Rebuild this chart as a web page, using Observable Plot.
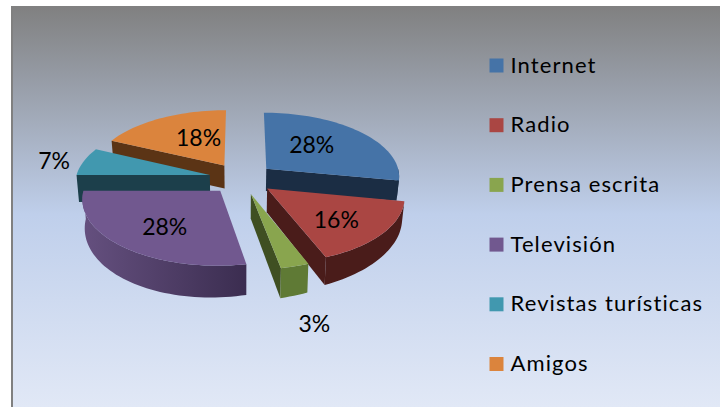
<!DOCTYPE html>
<html>
<head>
<meta charset="utf-8">
<script src="https://cdn.jsdelivr.net/npm/d3@7"></script>
<script src="https://cdn.jsdelivr.net/npm/@observablehq/plot@0.6"></script>
<style>
  html, body { margin: 0; padding: 0; background: #fff; }
  svg { display: block; }
</style>
</head>
<body>
<div id="chart"></div>
<script>
// ---- data ----
const categories = ["Internet", "Radio", "Prensa escrita", "Televisión", "Revistas turísticas", "Amigos"];
const percentages = [28, 16, 3, 28, 7, 18];
const topColors = ["#4573A7", "#AA4643", "#89A54E", "#71588F", "#4198AF", "#DB843D"];
const wallColors = ["#1B2D44", "#4A1C1A", "#3F4F22", "#3E3054", "#1C3F4B", "#5B3415"];
const rimColors = ["#1B2D44", "#4A1C1A", "#5F7A35", "#65507F", "#1C3F4B", "#5B3415"];
const rimEndColors = ["#1B2D44", "#4A1C1A", "#5F7A35", "#3B2D50", "#1C3F4B", "#5B3415"];

// ---- pie geometry (units: pie radii) ----
const W = 720, H = 407;
const CX = 241, CY = 178, RX = 134, RY = 64;
const EXPLODE = 0.244, PERSPECTIVE = 0.108;
const paintOrder = [5, 0, 4, 1, 2, 3];
// label position: multiples of the slice's mid direction, from its apex
const labelU = [0.44, 0.67, 1.7, 0.65, 1.19, 0.36];
const labelV = [0.56, 0.78, 2.12, 0.75, 1.0, 0.5];

const rad = d => d * Math.PI / 180;
const cum = d3.cumsum(percentages);
const slices = categories.map((name, i) => {
  const a0 = (i ? cum[i - 1] : 0) * 3.6, a1 = cum[i] * 3.6, am = (a0 + a1) / 2;
  return {i, name, a0, a1, ux: Math.sin(rad(am)), uy: Math.cos(rad(am)),
          ax: EXPLODE * Math.sin(rad(am)), ay: EXPLODE * Math.cos(rad(am))};
});
// perspective of a ground point; low = bottom face of the slab
function project(wx, wy, low) {
  const s = 1 / (1 + PERSPECTIVE * wy);
  const px = wx * s, py = wy * s;
  if (!low) return {x: px, y: py};
  const depth = (23.5 - 0.022 * px * RX) * s * s;
  return {x: px * 0.985, y: py - depth / RY};
}
const rim = (sl, a, low) => project(sl.ax + Math.sin(rad(a)), sl.ay + Math.cos(rad(a)), low);
const apex = (sl, low) => project(sl.ax, sl.ay, low);
const arcAngles = (a0, a1) => {
  const n = Math.max(2, Math.ceil((a1 - a0) / 2));
  return d3.range(n + 1).map(k => a0 + (a1 - a0) * k / n);
};

const polys = [];
let polyId = 0;
const addPoly = (pts, color) => { polyId++; pts.forEach(p => polys.push({z: polyId, x: p.x, y: p.y, color})); };
const gradients = [];

for (const idx of paintOrder) {
  const sl = slices[idx];
  // radial walls that face the viewer
  for (const [a, sign] of [[sl.a0, -1], [sl.a1, 1]]) {
    const normalV = sign * -Math.sin(rad(a));
    if (normalV < 0) addPoly([apex(sl, 0), rim(sl, a, 0), rim(sl, a, 1), apex(sl, 1)], wallColors[idx]);
  }
  // outer wall, front half only; one polygon, shaded left to right when its colours differ
  const from = Math.max(sl.a0, 90), to = Math.min(sl.a1, 270);
  if (to > from) {
    const as = arcAngles(from, to);
    let paint = rimColors[idx];
    if (rimColors[idx] !== rimEndColors[idx]) {
      paint = `url(#rim${idx})`;
      gradients.push({id: `rim${idx}`, left: rimColors[idx], right: rimEndColors[idx]});
    }
    addPoly([...as.map(a => rim(sl, a, 0)), ...as.slice().reverse().map(a => rim(sl, a, 1))], paint);
  }
  // top face
  addPoly([apex(sl, 0), ...arcAngles(sl.a0, sl.a1).map(a => rim(sl, a, 0))], topColors[idx]);
}

const labels = slices.map(sl => {
  const p = apex(sl, 0);
  return {text: percentages[sl.i] + "%", x: p.x + labelU[sl.i] * sl.ux, y: p.y + labelV[sl.i] * sl.uy};
});

// legend rows
const pxX = px => (px - CX) / RX, pxY = py => (CY - py) / RY;
const legendRows = categories.map((name, i) => ({
  name, color: topColors[i], y: pxY(65 + i * 59.7)
}));

const background =
  "linear-gradient(#808080,#808080) 11px 6px/2px 401px no-repeat," +
  "linear-gradient(#808080 0%, #BFCFEB 52%, #E1E8F6 100%) 11px 6px/709px 401px no-repeat";

const chart = Plot.plot({
  width: W, height: H,
  marginTop: 0, marginRight: 0, marginBottom: 0, marginLeft: 0,
  style: {background, fontFamily: "Lato, Carlito, sans-serif", overflow: "hidden"},
  x: {axis: null, domain: [-CX / RX, (W - CX) / RX], range: [0, W]},
  y: {axis: null, domain: [CY / RY, (CY - H) / RY], range: [0, H]},
  color: {type: "identity"},
  marks: [
    Plot.line(polys, {x: "x", y: "y", z: "z", fill: "color", curve: "linear-closed"}),
    Plot.text(labels, {x: "x", y: "y", text: "text", fontSize: 23, fill: "#000", lineAnchor: "middle"}),
    Plot.dot(legendRows, {x: () => pxX(496), y: "y", fill: "color", symbol: "square", r: 7.9}),
    Plot.text(legendRows, {x: () => pxX(510), y: "y", text: "name", fontSize: 22, fill: "#000", textAnchor: "start", lineAnchor: "middle"})
  ]
});
const defs = d3.select(chart).insert("defs", ":first-child");
for (const g of gradients) {
  const lg = defs.append("linearGradient").attr("id", g.id);
  lg.append("stop").attr("offset", "0%").attr("stop-color", g.left);
  lg.append("stop").attr("offset", "100%").attr("stop-color", g.right);
}
// the legend text is set slightly wider than the percentages
d3.select(chart).selectAll("g[aria-label='text']").filter((d, i) => i === 1).style("letter-spacing", "1.1px");
document.getElementById("chart").appendChild(chart);
</script>
</body>
</html>
